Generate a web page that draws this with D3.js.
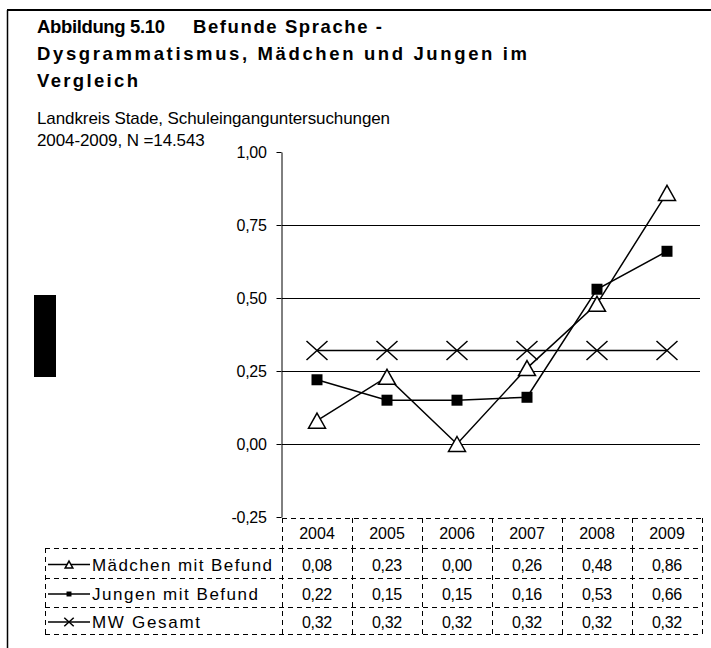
<!DOCTYPE html>
<html>
<head>
<meta charset="utf-8">
<script src="https://cdn.jsdelivr.net/npm/d3@7"></script>
<style>
  body { margin: 0; background: #fff; }
  svg { display: block; }
</style>
</head>
<body>
<div id="chart"></div>
<script>
var years = ['2004', '2005', '2006', '2007', '2008', '2009'];
var maedchen = [0.08, 0.23, 0.00, 0.26, 0.48, 0.86];
var jungen = [0.22, 0.15, 0.15, 0.16, 0.53, 0.66];
var mwGesamt = [0.32, 0.32, 0.32, 0.32, 0.32, 0.32];
var seriesNames = ['Mädchen mit Befund', 'Jungen mit Befund', 'MW Gesamt'];
var yTicks = [-0.25, 0, 0.25, 0.5, 0.75, 1];

var width = 711,
    height = 648;

var fontFamily = '"Liberation Sans", Arial, sans-serif';
var ink = '#000';

var svg = d3.select('#chart')
  .append('svg')
  .attr('width', width)
  .attr('height', height);

// frame (only top and left visible)
svg.append('line')
  .attr('x1', 7).attr('y1', 10).attr('x2', width).attr('y2', 10)
  .style('stroke', ink).style('stroke-width', 2);
svg.append('line')
  .attr('x1', 7.5).attr('y1', 10).attr('x2', 7.5).attr('y2', height)
  .style('stroke', ink).style('stroke-width', 1.5);

// title block - pieces with their widths in the original
var titleParts = [
  { t: 'Abbildung 5.10', x: 37, y: 33, w: 128 },
  { t: 'Befunde Sprache -', x: 193, y: 33, w: 189 },
  { t: 'Dysgrammatismus, Mädchen und Jungen im', x: 37, y: 60, w: 490 },
  { t: 'Vergleich', x: 37, y: 87, w: 101 }
];
titleParts.forEach(function(p) {
  svg.append('text')
    .attr('x', p.x)
    .attr('y', p.y)
    .attr('font-family', fontFamily)
    .attr('font-size', '18.5px')
    .attr('font-weight', 'bold')
    .attr('textLength', p.w)
    .attr('lengthAdjust', 'spacing')
    .text(p.t);
});

svg.append('text')
  .attr('x', 37).attr('y', 124)
  .attr('font-family', fontFamily)
  .attr('font-size', '17px')
  .attr('letter-spacing', '-0.1px')
  .text('Landkreis Stade, Schuleinganguntersuchungen');
svg.append('text')
  .attr('x', 37).attr('y', 146)
  .attr('font-family', fontFamily)
  .attr('font-size', '17px')
  .attr('letter-spacing', '-0.1px')
  .text('2004-2009, N =14.543');

// black block at left
svg.append('rect')
  .attr('x', 34).attr('y', 295)
  .attr('width', 22).attr('height', 82)
  .style('fill', ink);

// scales
var x = d3.scaleBand().domain(years).range([282, 702]).padding(0);
var y = d3.scaleLinear().domain([-0.25, 1]).range([517, 152]);
var fmt = function(v) { return d3.format('.2f')(v).replace('.', ',').replace('\u2212', '-'); };

// gridlines
svg.append('g')
  .selectAll('line')
  .data(yTicks.filter(function(d) { return d >= 0 && d < 1; }))
  .join('line')
  .attr('x1', 282).attr('x2', 700)
  .attr('y1', function(d) { return Math.round(y(d)) + 0.5; })
  .attr('y2', function(d) { return Math.round(y(d)) + 0.5; })
  .style('stroke', ink).style('stroke-width', 1);

// y axis
var yAxis = svg.append('g')
  .attr('transform', 'translate(281.5,0)')
  .call(d3.axisLeft(y).tickValues(yTicks).tickFormat(fmt).tickSize(5).tickSizeOuter(0));
yAxis.select('.domain').style('stroke', ink);
yAxis.selectAll('.tick line').style('stroke', ink);
yAxis.selectAll('.tick text')
  .attr('x', -15)
  .attr('font-family', fontFamily)
  .attr('font-size', '16px')
  .attr('letter-spacing', '-0.3px')
  .style('fill', ink);

// series
var cx = function(d, i) { return x(years[i]) + x.bandwidth() / 2; };
var line = d3.line().x(cx).y(function(d) { return y(d); });

var triPath = function(w, h) {
  return 'M0,' + (-h / 2) + 'L' + (w / 2) + ',' + (h / 2) + 'L' + (-w / 2) + ',' + (h / 2) + 'Z';
};
var crossPath = function(w, h) {
  return 'M' + (-w / 2) + ',' + (-h / 2) + 'L' + (w / 2) + ',' + (h / 2) +
         'M' + (w / 2) + ',' + (-h / 2) + 'L' + (-w / 2) + ',' + (h / 2);
};

var series = [
  { name: seriesNames[0], values: maedchen, marker: 'tri', labelW: 180 },
  { name: seriesNames[1], values: jungen, marker: 'sq', labelW: 166 },
  { name: seriesNames[2], values: mwGesamt, marker: 'x', labelW: 108 }
];

function drawMarker(g, type, scale) {
  if (type === 'tri') {
    g.append('path').attr('d', triPath(17 * scale, 15 * scale))
      .style('fill', '#fff').style('stroke', ink).style('stroke-width', 1.5);
  } else if (type === 'sq') {
    var s = 11 * scale;
    g.append('rect').attr('x', -s / 2).attr('y', -s / 2).attr('width', s).attr('height', s)
      .style('fill', ink);
  } else {
    g.append('path').attr('d', crossPath(21 * scale, 19 * scale))
      .style('fill', 'none').style('stroke', ink).style('stroke-width', 1.5);
  }
}

// draw MW line first, then the others on top
[2, 1, 0].forEach(function(k) {
  svg.append('path')
    .datum(series[k].values)
    .attr('d', line)
    .style('fill', 'none').style('stroke', ink).style('stroke-width', 1.5);
});
[2, 1, 0].forEach(function(k) {
  var s = series[k];
  s.values.forEach(function(v, i) {
    var g = svg.append('g').attr('transform', 'translate(' + cx(v, i) + ',' + y(v) + ')');
    drawMarker(g, s.marker, 1);
  });
});

// data table
var dash = '5,4';
var headTop = 518, rowTops = [548, 578, 607], tableBottom = 634;
var legendLeft = 45, tableRight = 702;
var tbl = svg.append('g').style('stroke', ink).style('stroke-width', 1)
  .style('stroke-dasharray', dash).style('fill', 'none');

function hLine(x1, x2, yy) {
  tbl.append('line').attr('x1', x1).attr('x2', x2).attr('y1', yy + 0.5).attr('y2', yy + 0.5);
}
function vLine(xx, y1, y2) {
  tbl.append('line').attr('x1', xx + 0.5).attr('x2', xx + 0.5).attr('y1', y1).attr('y2', y2);
}

hLine(282, tableRight, headTop);
years.forEach(function(yr) { vLine(x(yr), headTop, rowTops[0]); });
vLine(tableRight, headTop, rowTops[0]);
rowTops.concat([tableBottom]).forEach(function(t) { hLine(legendLeft, tableRight, t); });
[legendLeft].concat(years.map(function(yr) { return x(yr); }), [tableRight]).forEach(function(xx) {
  vLine(xx, rowTops[0], tableBottom);
});

// header years
svg.append('g').selectAll('text')
  .data(years)
  .join('text')
  .attr('x', function(d) { return x(d) + x.bandwidth() / 2; })
  .attr('y', 539)
  .attr('text-anchor', 'middle')
  .attr('font-family', fontFamily)
  .attr('font-size', '16px')
  .text(function(d) { return d; });

// rows
series.forEach(function(s, k) {
  var top = rowTops[k];
  var bottom = k < 2 ? rowTops[k + 1] : tableBottom;
  var mid = (top + bottom) / 2 + 1.5;

  svg.append('line')
    .attr('x1', 48).attr('x2', 90).attr('y1', mid).attr('y2', mid)
    .style('stroke', ink).style('stroke-width', 1.5);
  drawMarker(svg.append('g').attr('transform', 'translate(69,' + mid + ')'), s.marker, 0.45);

  svg.append('text')
    .attr('x', 92).attr('y', mid + 6)
    .attr('font-family', fontFamily)
    .attr('font-size', '17px')
    .attr('textLength', s.labelW)
    .attr('lengthAdjust', 'spacing')
    .text(s.name);

  svg.append('g').selectAll('text')
    .data(s.values)
    .join('text')
    .attr('x', function(d, i) { return x(years[i]) + x.bandwidth() / 2; })
    .attr('y', mid + 6)
    .attr('text-anchor', 'middle')
    .attr('font-family', fontFamily)
    .attr('font-size', '16px')
    .attr('letter-spacing', '-0.3px')
    .text(fmt);
});
</script>
</body>
</html>
